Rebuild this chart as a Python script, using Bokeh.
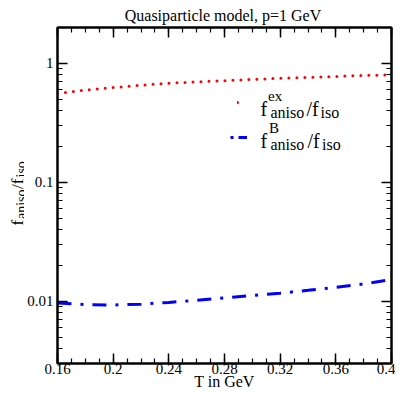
import numpy as np
from bokeh.plotting import figure
from bokeh.layouts import column, row
from bokeh.models import (Range1d, LogAxis, LinearAxis, FixedTicker, CustomJSTickFormatter,
                          Label, Legend, LegendItem)
from bokeh.embed import file_html
from bokeh.resources import INLINE

# ---- data ----
T = [0.16, 0.18, 0.20, 0.22, 0.24, 0.26, 0.28, 0.30, 0.32, 0.34, 0.36, 0.38, 0.40]
ratio_ex = [0.557, 0.596, 0.625, 0.655, 0.681, 0.699, 0.715, 0.733, 0.748, 0.760, 0.776, 0.790, 0.802]
ratio_B = [0.00968, 0.00937, 0.00931, 0.00946, 0.00979, 0.0102, 0.0107, 0.0112, 0.0117,
           0.01237, 0.0131, 0.0140, 0.0152]
x_ticks = [0.16, 0.20, 0.24, 0.28, 0.32, 0.36, 0.40]
x_minor = [0.16 + 0.01 * i for i in range(25)]
y_ticks = [0.01, 0.1, 1.0]
y_minor = [m * d for d in (0.001, 0.01, 0.1, 1.0) for m in range(2, 10)]

title_text = "Quasiparticle model, p=1 GeV"
x_label = "T in GeV"

FONT = "Liberation Serif"


def blank_fig(w, h):
    f = figure(width=w, height=h, output_backend="svg", toolbar_location=None,
               x_axis_location=None, y_axis_location=None, min_border=0,
               x_range=Range1d(0, 1), y_range=Range1d(0, 1))
    f.outline_line_color = None
    f.xgrid.visible = False
    f.ygrid.visible = False
    f.background_fill_color = "white"
    f.border_fill_color = "white"
    return f


def add_label(fig, text, x, y, size, angle=0.0, align="left"):
    fig.add_layout(Label(x=x, y=y, x_units="screen", y_units="screen",
                         text=text, text_font=FONT, text_font_size=f"{size}px",
                         text_color="black", angle=angle, text_align=align,
                         text_baseline="alphabetic"))


# ---------------- title strip (page y 0..26) ----------------
TH = 26
title_fig = blank_fig(400, TH)
add_label(title_fig, title_text, 222.5, TH - 15, 16, align="center")

# ---------------- main plot (page x 24..395, y 26..393) ----------------
YW = 24
MW, MH = 371, 367
p = figure(width=MW, height=MH, output_backend="svg", toolbar_location=None,
           x_range=Range1d(0.16, 0.4), y_range=Range1d(0.003, 2.0),
           y_axis_type="log", min_border_left=31, min_border_right=4,
           min_border_top=1, min_border_bottom=30)
p.xgrid.visible = False
p.ygrid.visible = False
p.outline_line_color = "black"
p.outline_line_width = 2
p.background_fill_color = "white"
p.border_fill_color = "white"

xfmt = CustomJSTickFormatter(code="return (Math.round(tick*100)/100).toString()")
yfmt = CustomJSTickFormatter(code="return tick.toString()")


def style_axis(ax, show_labels):
    ax.axis_line_color = "black"
    ax.axis_line_width = 2
    ax.major_tick_in = 10
    ax.major_tick_out = 0
    ax.minor_tick_in = 5
    ax.minor_tick_out = 0
    ax.major_tick_line_color = "black"
    ax.minor_tick_line_color = "black"
    ax.major_tick_line_width = 1.5
    ax.minor_tick_line_width = 1.2
    if show_labels:
        ax.major_label_text_font = FONT
        ax.major_label_text_font_size = "15px"
        ax.major_label_text_color = "black"
    else:
        ax.major_label_text_font_size = "0px"
        ax.major_label_standoff = 0


xa = p.xaxis[0]
xa.ticker = FixedTicker(ticks=x_ticks, minor_ticks=x_minor)
xa.formatter = xfmt
xa.major_label_standoff = 0
style_axis(xa, True)
xa.axis_label = x_label
xa.axis_label_text_font = FONT
xa.axis_label_text_font_size = "16px"
xa.axis_label_text_font_style = "normal"
xa.axis_label_text_color = "black"
xa.axis_label_standoff = -4

ya = p.yaxis[0]
ya.ticker = FixedTicker(ticks=y_ticks, minor_ticks=y_minor)
ya.formatter = yfmt
ya.major_label_standoff = 4
style_axis(ya, True)

top = LinearAxis(ticker=FixedTicker(ticks=x_ticks, minor_ticks=x_minor), formatter=xfmt)
style_axis(top, False)
p.add_layout(top, "above")
right = LogAxis(ticker=FixedTicker(ticks=y_ticks, minor_ticks=y_minor), formatter=yfmt)
style_axis(right, False)
p.add_layout(right, "right")

# ---- curves ----
r_ex = p.line(T, ratio_ex, line_color="#ff0000", line_width=3, line_dash="0 8", line_cap="round")
r_B = p.line(T, ratio_B, line_color="#0000ff", line_width=3, line_dash="14 9 3 9")

# legend sample for the B curve (hidden copy with a shifted dash phase)
s_B = p.line(T, ratio_B, line_color="#0000ff", line_width=3, line_dash="3 5 9 30",
             visible=False)

# page coords of the frame's bottom-left corner
FX0, FY0 = 55, 363


def make_legend(renderer, gw, X, Yb):
    leg = Legend(items=[LegendItem(label=" ", renderers=[renderer])],
                 location=(X - FX0, FY0 - Yb), glyph_width=gw, glyph_height=10,
                 label_height=10, label_width=1, label_text_font_size="1px",
                 padding=0, margin=0, spacing=0, label_standoff=0,
                 border_line_color=None, background_fill_alpha=0)
    p.add_layout(leg, "center")


make_legend(r_ex, 3, 235, 106.7)
make_legend(s_B, 17, 228, 141.7)


def lab(text, X, Y, size):
    add_label(p, text, X - FX0, FY0 - Y, size)


# legend texts
lab("f", 258, 108, 20)
lab("ex", 265.5, 95, 15)
lab("aniso", 268, 112, 16)
lab("/f", 304, 108, 20)
lab("iso", 318, 112, 16)

lab("f", 258, 140, 20)
lab("B", 266.5, 127, 15)
lab("aniso", 268, 143.5, 16)
lab("/f", 305, 140, 20)
lab("iso", 319.5, 143.5, 16)

# ---------------- y-axis label strip (page x 0..24) ----------------
# the strip's frame is aligned with the main frame (page y 27..363)
ylab_fig = blank_fig(YW, MH)


def ylab(text, X, Y, size):
    add_label(ylab_fig, text, X, FY0 - Y, size, angle=np.pi / 2)


ylab("f", 16.5, 225, 17)
ylab("aniso", 20.5, 218.5, 14)
ylab("/f", 16.5, 188.5, 17)
ylab("iso", 20.5, 177, 14)

layout = column(title_fig, row(ylab_fig, p, spacing=0), spacing=0)
open("out.html", "w").write(file_html(layout, INLINE))
